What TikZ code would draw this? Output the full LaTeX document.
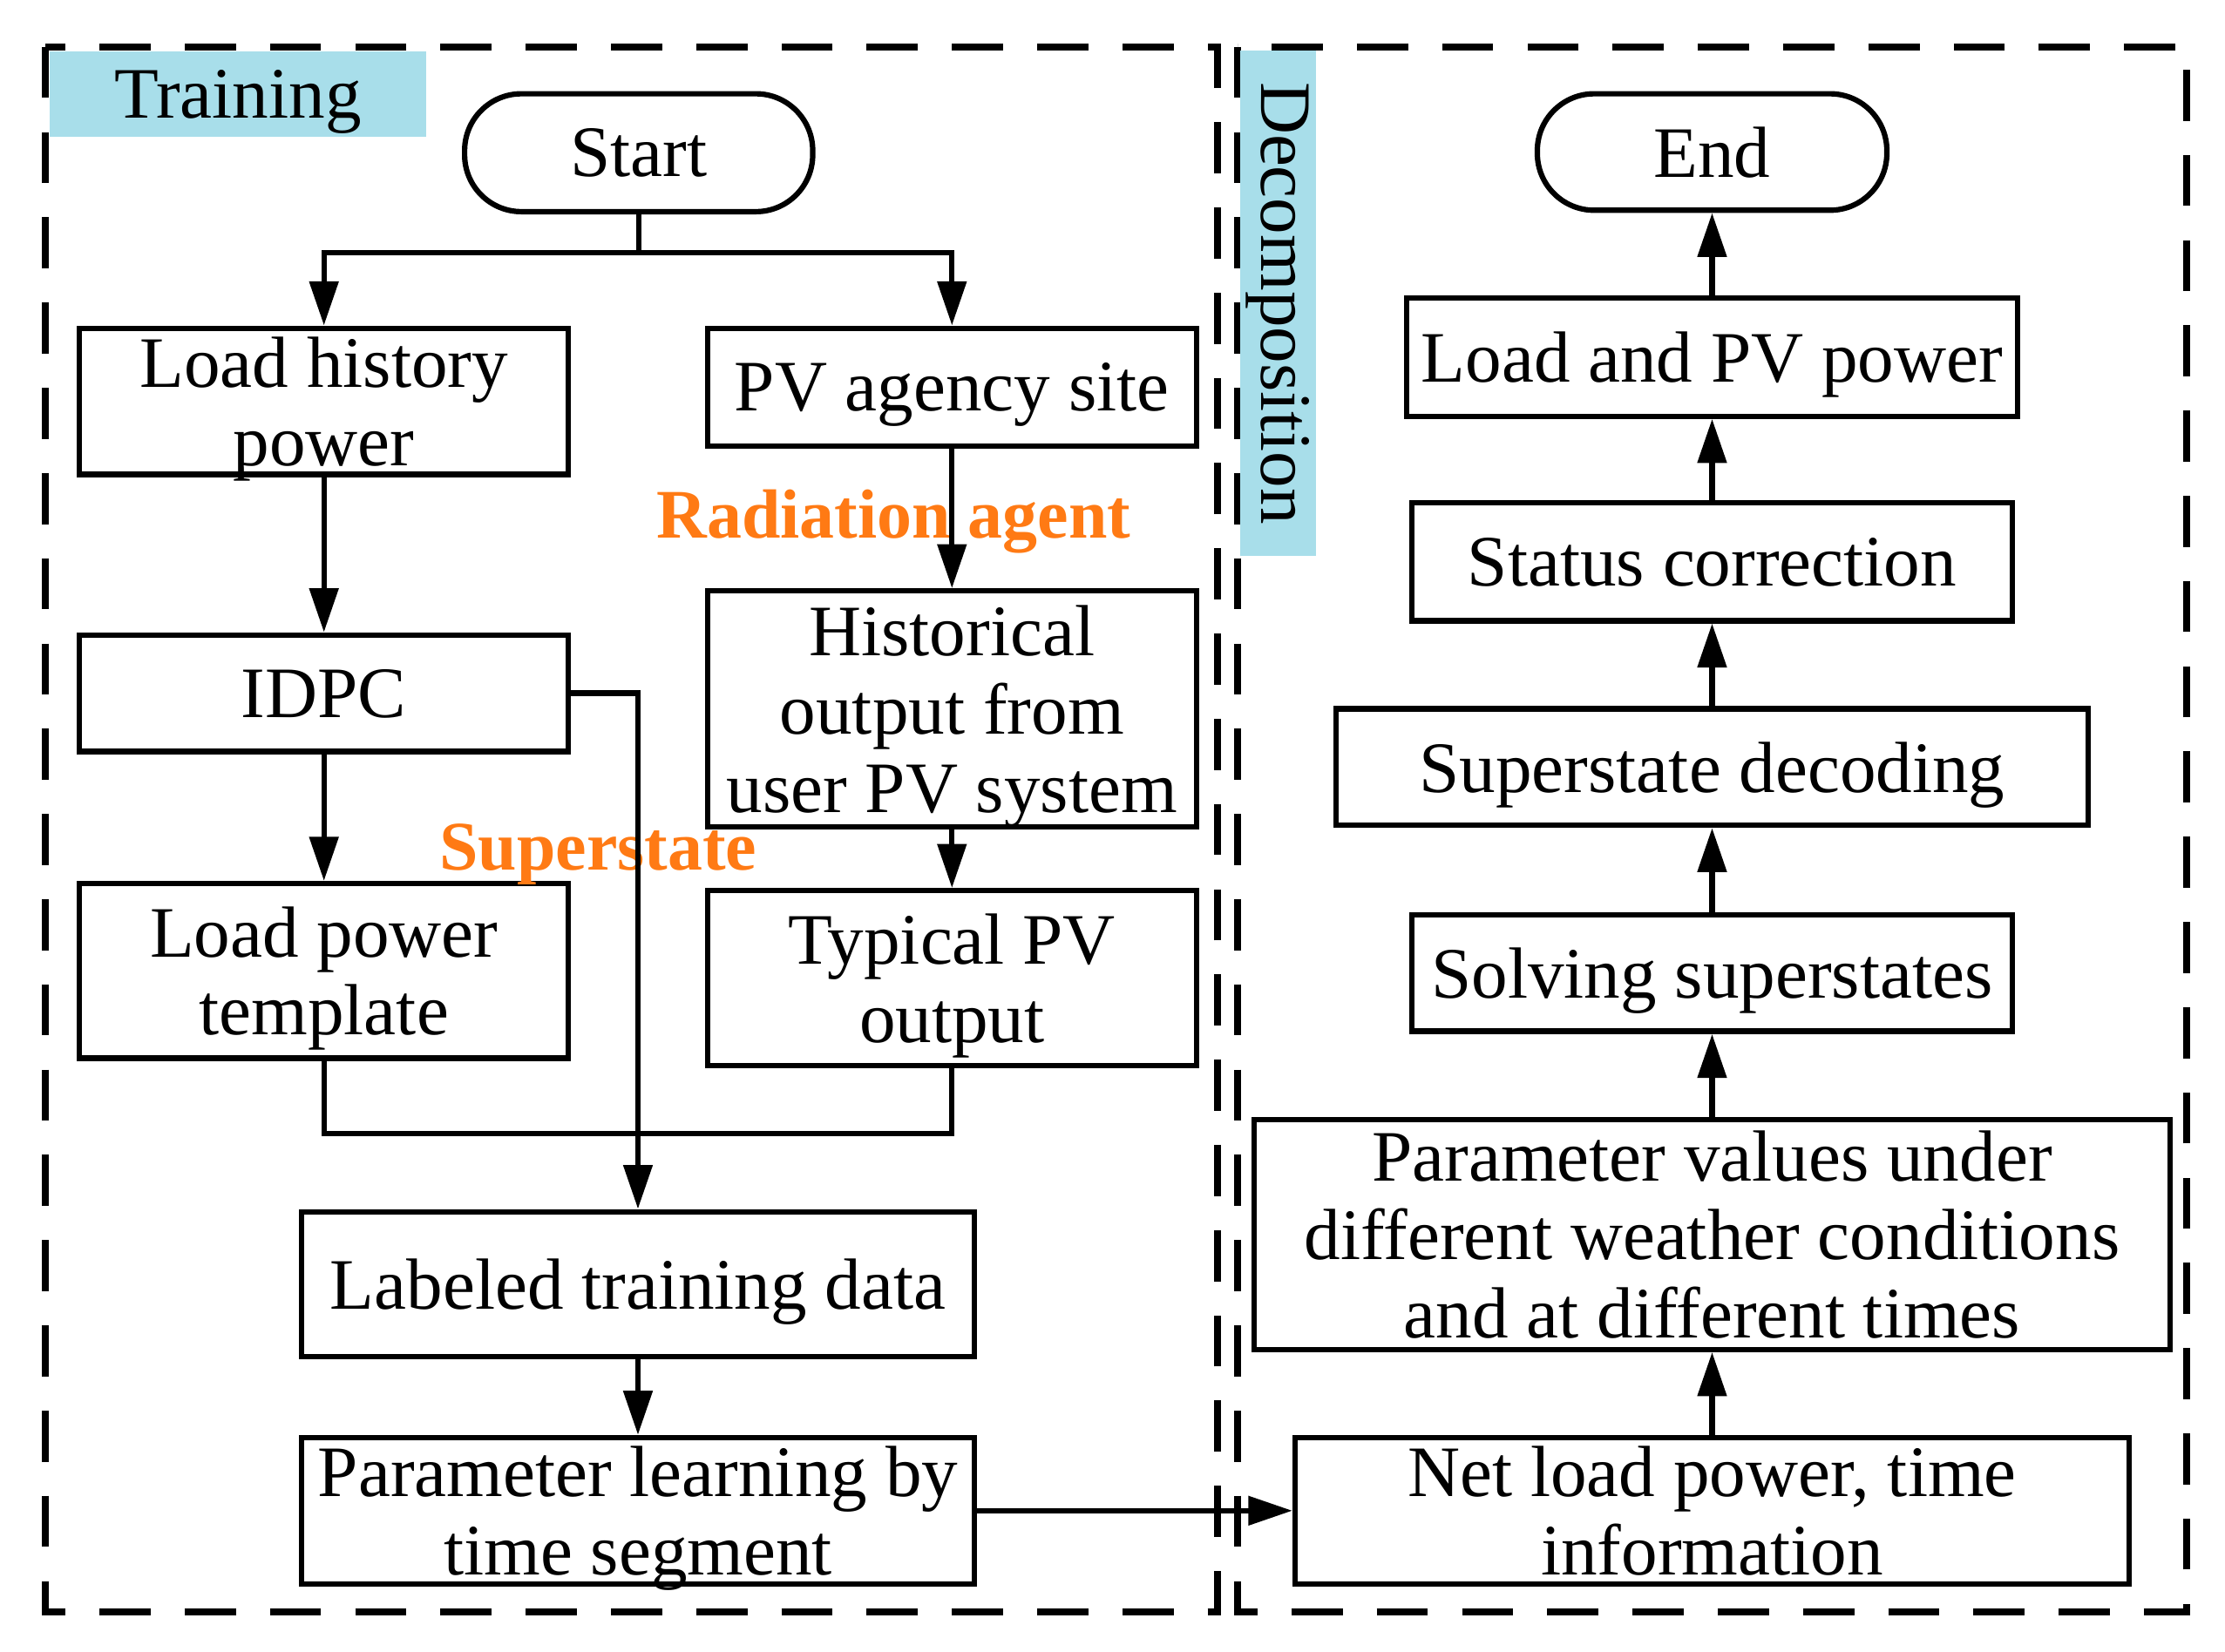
\documentclass[tikz,border=0pt]{standalone}
\usepackage{fontspec}
\setmainfont{Liberation Serif}
\usetikzlibrary{arrows.meta}
\definecolor{labelblue}{RGB}{168,222,234}
\definecolor{agentorange}{RGB}{255,122,20}
\begin{document}
\begin{tikzpicture}[x=1pt,y=-1pt,
  every node/.style={font=\fontsize{51}{55}\selectfont},
  box/.style n args={2}{draw, line width=3.8pt, minimum width=#1, minimum height=#2, inner sep=0pt, align=center, text depth=0pt},
  term/.style n args={2}{draw, line width=3.8pt, rounded corners=40pt, minimum width=#1, minimum height=#2, inner sep=0pt, align=center, text depth=0pt},
  arr/.style={-{Triangle[length=31pt,width=20pt]}, line width=3.8pt},
  conn/.style={line width=3.8pt},
  outer/.style={line width=5pt, dash pattern=on 36pt off 24pt},
  lbl/.style={fill=labelblue, inner sep=0pt},
  agent/.style={text=agentorange, text depth=0pt, font=\fontsize{49}{55}\selectfont\bfseries}
]
\useasboundingbox (0,0) rectangle (1566,1162.4);

% panels
\draw[outer] (32,33) rectangle (857,1135);
\draw[outer] (871,33) rectangle (1539,1135);

% panel labels
\node[lbl, text depth=0pt, minimum width=265pt, minimum height=60pt] (trainlbl) at (167.5,66) {Training};
\node[lbl, rotate=-90, minimum width=356pt, minimum height=53pt] (declbl) at (899.5,213.5) {Decomposition};

% training nodes
\node[term={245pt}{83pt}] (start) at (449.5,107.5) {Start};
\node[box={344pt}{103pt}] (lhp) at (228,282.5) {Load history\\power};
\node[box={344pt}{83pt}] (pvs) at (670,272.5) {PV agency site};
\node[box={344pt}{166pt}] (hist) at (670,499) {Historical\\output from\\user PV system};
\node[box={344pt}{82pt}] (idpc) at (228,488) {IDPC};
\node[box={344pt}{123pt}] (lpt) at (228,683.5) {Load power\\template};
\node[box={344pt}{123pt}] (tpv) at (670,688.5) {Typical PV\\output};
\node[box={474pt}{102pt}] (ltd) at (449,904) {Labeled training data};
\node[box={474pt}{103pt}] (plts) at (449,1063.5) {Parameter learning by\\time segment};

% decomposition nodes
\node[term={246pt}{82pt}] (endn) at (1205,107) {End};
\node[box={430pt}{83pt}] (lpv) at (1205,251.5) {Load and PV power};
\node[box={423pt}{83pt}] (sc) at (1205,395.5) {Status correction};
\node[box={529pt}{82pt}] (sd) at (1205,540) {Superstate decoding};
\node[box={423pt}{82pt}] (ss) at (1205,685) {Solving superstates};
\node[box={645pt}{162pt}] (pval) at (1205,869) {Parameter values under\\different weather conditions\\and at different times};
\node[box={587pt}{103pt}] (nlp) at (1205,1063.5) {Net load power, time\\information};

% orange annotations
\node[agent] (radag) at (629,362) {Radiation agent};
\node[agent] (super) at (421,596) {Superstate};

% training connectors
\coordinate (fork) at (449.5,178);
\draw[conn] (start.south) -- (fork);
\draw[arr] (fork) -| (lhp.north);
\draw[arr] (fork) -| (pvs.north);
\draw[arr] (lhp) -- (idpc);
\draw[arr] (pvs) -- (hist);
\draw[arr] (idpc) -- (lpt);
\draw[arr] (hist) -- (tpv);
\draw[arr] (idpc.east) -| (ltd.north);
\coordinate (join) at (449,798);
\draw[conn] (lpt.south) |- (join) -| (tpv.south);
\draw[arr] (ltd) -- (plts);
\draw[arr] (plts.east) -- (nlp.west);

% decomposition connectors
\draw[arr] (nlp) -- (pval);
\draw[arr] (pval) -- (ss);
\draw[arr] (ss) -- (sd);
\draw[arr] (sd) -- (sc);
\draw[arr] (sc) -- (lpv);
\draw[arr] (lpv) -- (endn);
\end{tikzpicture}
\end{document}
